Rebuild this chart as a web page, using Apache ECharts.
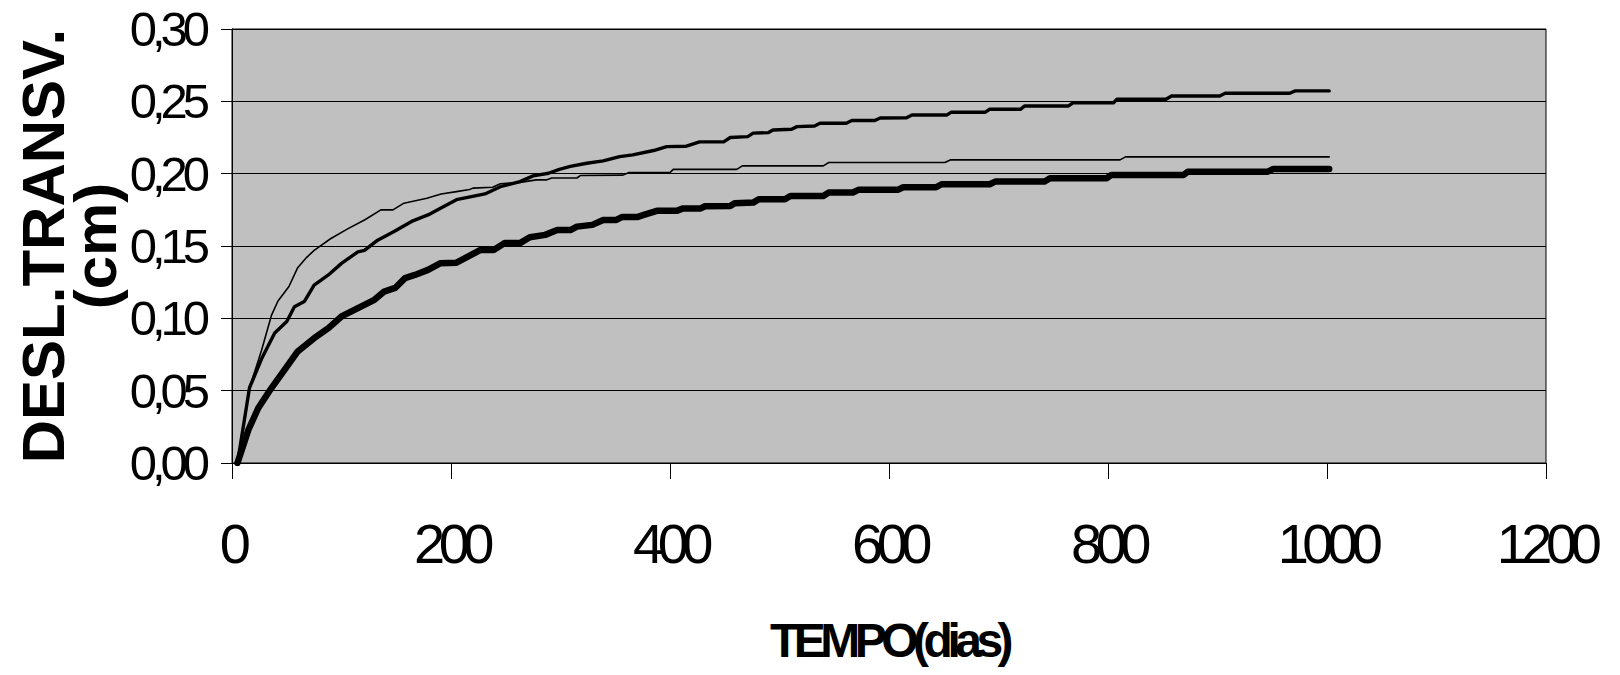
<!DOCTYPE html>
<html>
<head>
<meta charset="utf-8">
<script src="https://cdn.jsdelivr.net/npm/echarts@6/dist/echarts.min.js"></script>
<style>
html,body{margin:0;padding:0;background:#ffffff;}
#chart{width:1620px;height:675px;}
</style>
</head>
<body>
<div id="chart"></div>
<script>
// ---- data ----
const xTicks = [0, 200, 400, 600, 800, 1000, 1200];
const yTicks = [0.00, 0.05, 0.10, 0.15, 0.20, 0.25, 0.30];
const xTitle = 'TEMPO(dias)';
const yTitle = 'DESL.TRANSV.\n(cm)';

// thin curve [day, cm]
const thinDays = [5,16,27,36,42,52,60,68,75,90,106,121,136,147,157,178,191,205,217,220,238,245,263,278,287,292,315,318,357,362,400,403,461,466,540,545,651,656,811,816,1002];
const thinVals = [0,0.052,0.078,0.102,0.112,0.122,0.135,0.142,0.147,0.155,0.162,0.168,0.175,0.175,0.1796,0.183,0.186,0.1876,0.189,0.190,0.1906,0.193,0.194,0.1957,0.1957,0.197,0.197,0.1987,0.199,0.2007,0.2007,0.203,0.203,0.2054,0.2054,0.2077,0.2077,0.2095,0.2095,0.2116,0.2116];

// medium curve [day, cm]
const medDays = [5,16,27,39,50,57,66,75,88,100,115,121,133,148,164,179,190,205,231,245,263,275,289,299,309,324,339,354,366,385,397,415,427,449,455,471,476,490,494,511,516,532,537,561,566,587,592,616,621,653,657,688,692,720,724,764,768,805,808,853,858,902,907,966,971,1002];
const medVals = [0,0.052,0.072,0.0898,0.0978,0.108,0.1116,0.123,0.130,0.138,0.146,0.147,0.154,0.160,0.167,0.1715,0.176,0.182,0.186,0.191,0.1945,0.1985,0.2003,0.203,0.205,0.2072,0.2088,0.2118,0.213,0.216,0.2187,0.219,0.222,0.222,0.225,0.2256,0.228,0.2284,0.2302,0.2307,0.2325,0.233,0.2349,0.2349,0.2367,0.2367,0.2385,0.2387,0.2406,0.2406,0.2425,0.2425,0.2445,0.2445,0.2468,0.2468,0.249,0.249,0.2514,0.2514,0.2537,0.2537,0.2556,0.2556,0.2572,0.2572];

// thick curve [day, cm]
const thickDays = [5,15,24,36,47,60,75,88,100,115,130,139,149,158,167,179,190,205,227,239,249,263,272,286,297,309,315,329,339,351,356,370,376,388,406,412,428,432,455,459,476,481,505,510,540,545,567,572,608,613,643,648,692,697,742,747,799,803,869,873,946,951,1002];
const thickVals = [0,0.023,0.038,0.0518,0.0633,0.0771,0.0863,0.0932,0.1013,0.107,0.1128,0.1185,0.121,0.1278,0.130,0.1335,0.138,0.1385,0.1473,0.1473,0.152,0.152,0.156,0.1577,0.161,0.161,0.1634,0.1646,0.168,0.168,0.170,0.170,0.1715,0.1743,0.1743,0.176,0.176,0.1775,0.1777,0.1796,0.180,0.1823,0.1823,0.1846,0.1846,0.187,0.187,0.1888,0.1888,0.1906,0.1906,0.1927,0.1927,0.1945,0.1945,0.1969,0.1969,0.1991,0.1991,0.2014,0.2014,0.2033,0.2033];

const pair = (d, v) => d.map((x, i) => [x, v[i]]);

// ---- chart ----
const FONT = '"Liberation Sans", Arial, Helvetica, sans-serif';
const chart = echarts.init(document.getElementById('chart'), null, {renderer: 'svg', width: 1620, height: 675});

const lineSeries = (name, data, w) => ({
  name: name,
  type: 'line',
  data: data,
  showSymbol: false,
  symbol: 'none',
  smooth: false,
  silent: true,
  lineStyle: {color: '#000000', width: w, cap: 'round', join: 'round'},
  z: 3
});

chart.setOption({
  animation: false,
  backgroundColor: '#ffffff',
  grid: {
    left: 232, right: 74, top: 29, bottom: 212,
    show: true, backgroundColor: '#C0C0C0', borderColor: '#000000', borderWidth: 1,
    containLabel: false, outerBoundsMode: 'none'
  },
  xAxis: {
    type: 'value', min: xTicks[0], max: xTicks[xTicks.length - 1], interval: 200,
    name: xTitle, nameLocation: 'middle', nameGap: 153, nameMoveOverlap: false,
    nameTextStyle: {fontFamily: FONT, fontSize: 48, fontWeight: 'bold', color: '#000'},
    axisLine: {show: true, onZero: false, lineStyle: {color: '#000', width: 1}},
    axisTick: {show: true, inside: false, length: 16, lineStyle: {color: '#000', width: 1}},
    axisLabel: {show: true, margin: 52, fontFamily: FONT, fontSize: 56, color: '#000',
      formatter: v => String(v)},
    splitLine: {show: false}
  },
  yAxis: {
    type: 'value', min: yTicks[0], max: yTicks[yTicks.length - 1], interval: 0.05,
    name: yTitle, nameLocation: 'middle', nameRotate: 90, nameGap: 111, nameMoveOverlap: false,
    nameTextStyle: {fontFamily: FONT, fontSize: 60, fontWeight: 'bold', color: '#000', lineHeight: 52, align: 'center'},
    axisLine: {show: true, onZero: false, lineStyle: {color: '#000', width: 1}},
    axisTick: {show: true, inside: false, length: 11, lineStyle: {color: '#000', width: 1}},
    axisLabel: {show: true, margin: 27, fontFamily: FONT, fontSize: 49, color: '#000',
      formatter: v => v.toFixed(2).replace('.', ',')},
    splitLine: {show: true, lineStyle: {color: '#000', width: 1}}
  },
  series: [
    lineSeries('thick', pair(thickDays, thickVals), 6.5),
    lineSeries('medium', pair(medDays, medVals), 3.4),
    lineSeries('thin', pair(thinDays, thinVals), 1.6)
  ]
});

// tighten letter spacing as in the original (Excel-style condensed text)
function tighten() {
  document.querySelectorAll('#chart svg text').forEach(t => {
    const s = (t.textContent || '').trim();
    if (/^\d,\d\d$/.test(s)) t.setAttribute('letter-spacing', '-5');
    else if (/^\d+$/.test(s)) t.setAttribute('letter-spacing', '-6.5');
    else if (s === xTitle) t.setAttribute('letter-spacing', '-5.5');
  });
}
chart.on('finished', tighten);
tighten();
setTimeout(tighten, 50);
</script>
</body>
</html>
